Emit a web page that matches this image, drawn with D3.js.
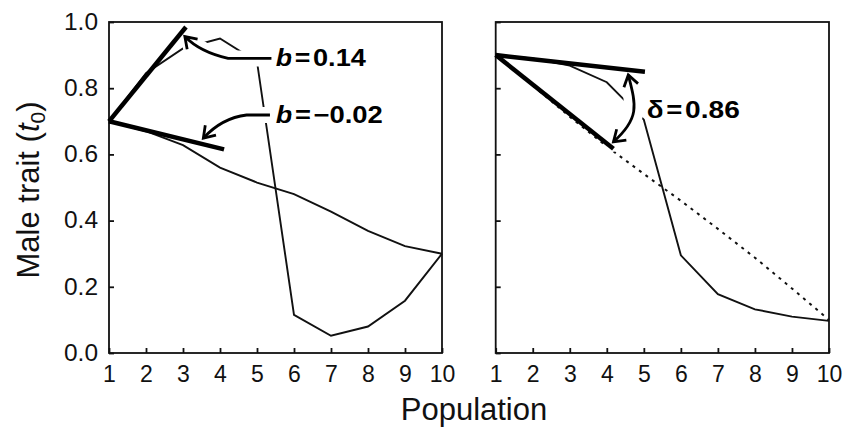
<!DOCTYPE html>
<html><head><meta charset="utf-8">
<script src="https://cdn.jsdelivr.net/npm/d3@7"></script>
<style>
body{margin:0;background:#fff}
svg{display:block}
text{font-family:"Liberation Sans",Arial,Helvetica,sans-serif}
</style>
</head><body>
<svg id="c" width="848" height="429"></svg>
<script>
// ---------- data ----------
const populations = [1, 2, 3, 4, 5, 6, 7, 8, 9, 10];
const xTickLabels = ["1","2","3","4","5","6","7","8","9","10"];
const yTickValues = [0, 0.2, 0.4, 0.6, 0.8, 1.0];
const yTickLabels = ["0.0","0.2","0.4","0.6","0.8","1.0"];

// left panel
const leftSeriesA = [0.70, 0.845, 0.92, 0.95, 0.88, 0.115, 0.052, 0.08, 0.158, 0.30];
const leftSeriesB = [0.70, 0.67, 0.628, 0.56, 0.515, 0.48, 0.427, 0.369, 0.323, 0.30];
const leftTangentUp = [[1, 0.70], [3.08, 0.985]];
const leftTangentDown = [[1, 0.70], [4.11, 0.615]];

// right panel
const rightSeries = [0.90, 0.89, 0.868, 0.818, 0.705, 0.295, 0.178, 0.132, 0.11, 0.097];
const rightReference = [0.90, 0.808, 0.714, 0.624, 0.541, 0.46, 0.375, 0.288, 0.195, 0.10];
const rightTangentUpper = [[1, 0.90], [5.03, 0.85]];
const rightTangentLower = [[1, 0.90], [4.18, 0.617]];

// annotations (data units)
const annotB1 = {sym: "b", val: "0.14", at: [5.51, 0.866], seg: [[5.39, 0.890], [4.22, 0.890]], ctrl: [3.46, 0.909], tip: [3.05, 0.956]};
const annotB2 = {sym: "b", val: "\u22120.02", at: [5.51, 0.694], seg: [[5.35, 0.719], [4.72, 0.719]], ctrl: [4.05, 0.710], tip: [3.55, 0.649]};
const annotD = {sym: "\u03b4", val: "0.86", at: [5.08, 0.709], p0: [4.58, 0.840], c1: [4.79, 0.749], c2: [4.90, 0.710], p3: [4.18, 0.638]};

// ---------- drawing ----------
const svg = d3.select("#c");
const yTop = 22, yBottom = 353;
const INK = "#111";

function makePanel(left, right, showYLabels) {
  const x = d3.scaleLinear().domain([1, 10]).range([left, right]);
  const y = d3.scaleLinear().domain([0, 1]).range([yBottom, yTop]);
  const g = svg.append("g");

  const ax = g.append("g").attr("transform", `translate(0,${yBottom})`)
    .call(d3.axisBottom(x).tickValues(populations).tickFormat((d, i) => xTickLabels[i])
      .tickSizeInner(-5).tickSizeOuter(0).tickPadding(13));
  ax.select(".domain").remove();
  ax.selectAll("line").attr("stroke", INK).attr("stroke-width", 1.8);
  ax.selectAll("text").attr("font-size", 23).attr("fill", INK);

  const ay = g.append("g").attr("transform", `translate(${left},0)`)
    .call(d3.axisLeft(y).tickValues(yTickValues).tickFormat((d, i) => showYLabels ? yTickLabels[i] : "")
      .tickSizeInner(-5).tickSizeOuter(0).tickPadding(11));
  ay.select(".domain").remove();
  ay.selectAll("line").attr("stroke", INK).attr("stroke-width", 1.8);
  ay.selectAll("text").attr("font-size", 23).attr("fill", INK).attr("textLength", 34).attr("lengthAdjust", "spacingAndGlyphs");

  g.append("rect").attr("x", left).attr("y", yTop)
    .attr("width", right - left).attr("height", yBottom - yTop)
    .attr("fill", "none").attr("stroke", INK).attr("stroke-width", 1.8);

  const line = d3.line().x(d => x(d[0])).y(d => y(d[1]));
  return {x, y, g, line};
}

function series(vals) { return populations.map((p, i) => [p, vals[i]]); }

function headPath(P, tip, from, len, ang) {
  const tx = P.x(tip[0]), ty = P.y(tip[1]);
  const fx = P.x(from[0]), fy = P.y(from[1]);
  let ux = tx - fx, uy = ty - fy;
  const n = Math.hypot(ux, uy); ux /= n; uy /= n;
  const a = ang * Math.PI / 180;
  const w = s => {
    const c = Math.cos(s * a), sn = Math.sin(s * a);
    const rx = ux * c - uy * sn, ry = ux * sn + uy * c;
    return [tx - len * rx, ty - len * ry];
  };
  const w1 = w(1), w2 = w(-1);
  return `M${w1[0]},${w1[1]}L${tx},${ty}L${w2[0]},${w2[1]}`;
}

function drawArrow(P, d, heads, haloW) {
  const halo = P.g.append("g");
  const ink = P.g.append("g");
  [halo, ink].forEach((grp, k) => {
    grp.append("path").attr("d", d).attr("fill", "none")
      .attr("stroke", k ? "#000" : "#fff").attr("stroke-width", k ? 2.8 : haloW)
      .attr("stroke-linecap", k ? "butt" : "round");
    heads.forEach(h => grp.append("path").attr("d", h).attr("fill", "none")
      .attr("stroke", k ? "#000" : "#fff").attr("stroke-width", k ? 2.8 : 8)
      .attr("stroke-linejoin", "miter").attr("stroke-linecap", "butt"));
  });
}

function drawLabel(P, a, width) {
  const t = P.g.append("text").attr("x", P.x(a.at[0])).attr("y", P.y(a.at[1]))
    .attr("font-size", 23).attr("font-weight", "bold").attr("fill", "#000")
    .attr("stroke", "#fff").attr("stroke-width", 8).attr("stroke-linejoin", "round")
    .style("paint-order", "stroke")
    .attr("textLength", width).attr("lengthAdjust", "spacingAndGlyphs");
  t.append("tspan").attr("font-style", a.sym === "b" ? "italic" : "normal").text(a.sym);
  t.append("tspan").attr("dx", 2).text("=");
  t.append("tspan").attr("dx", 2).text(a.val);
}

// ----- left panel -----
const L = makePanel(109, 442, true);
L.g.append("path").attr("d", L.line(series(leftSeriesB))).attr("fill", "none").attr("stroke", INK).attr("stroke-width", 1.9);
L.g.append("path").attr("d", L.line(series(leftSeriesA))).attr("fill", "none").attr("stroke", INK).attr("stroke-width", 1.9);

[annotB1, annotB2].forEach(a => {
  const s0 = a.seg[0], s1 = a.seg[1];
  const d = `M${L.x(s0[0])},${L.y(s0[1])}L${L.x(s1[0])},${L.y(s1[1])}Q${L.x(a.ctrl[0])},${L.y(a.ctrl[1])} ${L.x(a.tip[0])},${L.y(a.tip[1])}`;
  drawArrow(L, d, [headPath(L, a.tip, a.ctrl, 13, 34)], 16);
});
L.g.append("path").attr("d", L.line(leftTangentUp)).attr("fill", "none").attr("stroke", "#000").attr("stroke-width", 4.5);
L.g.append("path").attr("d", L.line(leftTangentDown)).attr("fill", "none").attr("stroke", "#000").attr("stroke-width", 4.5);
drawLabel(L, annotB1, 90);
drawLabel(L, annotB2, 107);

// ----- right panel -----
const R = makePanel(495.7, 829, false);
R.g.append("path").attr("d", R.line(series(rightReference))).attr("fill", "none").attr("stroke", INK)
  .attr("stroke-width", 2).attr("stroke-dasharray", "3,5");
R.g.append("path").attr("d", R.line(series(rightSeries))).attr("fill", "none").attr("stroke", INK).attr("stroke-width", 1.9);
{
  const a = annotD;
  const d = `M${R.x(a.p0[0])},${R.y(a.p0[1])}C${R.x(a.c1[0])},${R.y(a.c1[1])} ${R.x(a.c2[0])},${R.y(a.c2[1])} ${R.x(a.p3[0])},${R.y(a.p3[1])}`;
  drawArrow(R, d, [headPath(R, a.p0, a.c1, 13, 34), headPath(R, a.p3, a.c2, 13, 34)], 20);
}
R.g.append("path").attr("d", R.line(rightTangentUpper)).attr("fill", "none").attr("stroke", "#000").attr("stroke-width", 4.5);
R.g.append("path").attr("d", R.line(rightTangentLower)).attr("fill", "none").attr("stroke", "#000").attr("stroke-width", 4.5);
drawLabel(R, annotD, 93);

// ----- axis titles -----
svg.append("text").attr("x", 474).attr("y", 420).attr("text-anchor", "middle")
  .attr("font-size", 31).attr("fill", INK).text("Population");

const yl = svg.append("text").attr("transform", "translate(39,190) rotate(-90)")
  .attr("text-anchor", "middle").attr("font-size", 31).attr("fill", INK);
yl.append("tspan").text("Male trait (");
yl.append("tspan").attr("font-style", "italic").text("t");
yl.append("tspan").attr("font-size", 21).attr("dy", 6).text("0");
yl.append("tspan").attr("dy", -6).text(")");
</script>
</body></html>
